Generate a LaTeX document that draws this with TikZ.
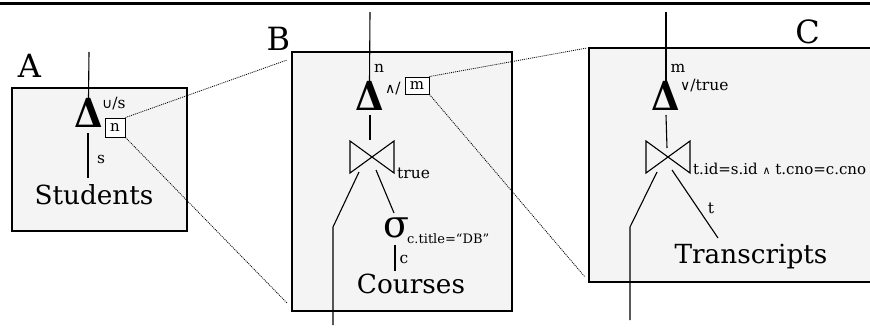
\documentclass[tikz,border=0pt]{standalone}
\usepackage{fontspec}
\setmainfont{DejaVu Serif}
\newfontfamily\symf{DejaVu Sans}
\definecolor{panelgray}{HTML}{F4F4F4}
\begin{document}
\begin{tikzpicture}[x=1pt,y=-1pt,
  panel/.style={draw=black,line width=1.2pt,fill=panelgray},
  conn/.style={line width=1.1pt},
  zoomline/.style={line width=0.8pt,dash pattern=on 1pt off 1pt},
  big/.style={font=\fontsize{26.3}{26}\selectfont,inner sep=0pt,anchor=base},
  letter/.style={font=\fontsize{32}{32}\selectfont,inner sep=0pt,anchor=base},
  lab/.style={font=\fontsize{15.5}{15}\selectfont,inner sep=0pt,anchor=base},
  labw/.style={font=\fontsize{15.5}{15}\selectfont,inner sep=0pt,anchor=base west},
  delta/.style={font=\fontsize{40}{40}\selectfont\bfseries,inner sep=0pt,anchor=base,text height=28pt,text depth=0pt},
  sigma/.style={font=\fontsize{38}{38}\selectfont,inner sep=0pt,anchor=base},
  refbox/.style={draw,line width=0.9pt,fill=white,inner sep=0pt,font=\fontsize{15}{15}\selectfont,align=center},
  bowtie/.pic={\draw[line width=1.1pt] (-21,-16) -- (-21,16) -- (23,-16) -- (23,16) -- cycle;}
]
\useasboundingbox (0,0) rectangle (870,327);
% top rule
\draw[line width=3pt] (0,3) -- (870,3);

% panels
\draw[panel] (12,88) rectangle (187,231);
\draw[panel] (292,52) rectangle (512,311);
\draw[panel] (589,48) rectangle (880,282);

% panel labels
\node[letter] (labA) at (29.5,77) {A};
\node[letter] (labB) at (278.5,50) {B};
\node[letter] (labC) at (807.5,43) {C};

%%%%% Panel A
\node[delta] (dA) at (88.5,127) {\scalebox{0.92}[1]{Δ}};
\node[labw] (opA) at (102,108) {{\symf\fontsize{14}{14}\selectfont ∪}/s};
\node[refbox,minimum width=20pt,minimum height=19pt] (boxN) at (115,127.5) {n};
\node[lab] (sA) at (101,163) {s};
\node[big] (stud) at (94,204) {Students};
\coordinate (aTop) at (89,52);
\coordinate (aBot1) at (88,133);
\coordinate (aBot2) at (88,178);
\draw[conn] (aTop) -- (dA.north);
\draw[conn] (aBot1) -- (aBot2);

%%%%% Panel B
\coordinate (bTop) at (370,12);
\node[lab] (nB) at (379,72) {n};
\node[delta] (dB) at (369.5,110) {\scalebox{0.92}[1]{Δ}};
\node[labw] (opB) at (385,93) {{\symf\fontsize{14}{14}\selectfont ∧}/};
\node[refbox,minimum width=24pt,minimum height=17pt] (boxM) at (417,85.5) {m};
\coordinate (jB) at (371,157);
\pic at (jB) {bowtie};
\node[labw] (trueB) at (397,178) {true};
\node[sigma] (sig) at (396,237) {σ};
\node[labw,font=\fontsize{13}{13}\selectfont] (condB) at (407,243) {c.title=“DB”};
\node[lab] (cB) at (404,263) {c};
\node[big] (courses) at (411,293) {Courses};
\coordinate (bMid1) at (370,115);
\coordinate (bMid2) at (370,140);
\coordinate (bL1) at (359,172);
\coordinate (bL2) at (333,227);
\coordinate (bL3) at (333,325);
\coordinate (bR1) at (376,170);
\coordinate (bR2) at (394,213);
\coordinate (bC1) at (395,245);
\coordinate (bC2) at (395,271);
\draw[conn] (bTop) -- (dB.north);
\draw[conn] (bMid1) -- (bMid2);
\draw[conn] (bL1) -- (bL2) -- (bL3);
\draw[conn] (bR1) -- (bR2);
\draw[conn] (bC1) -- (bC2);

%%%%% Panel C
\coordinate (cTop) at (666,12);
\node[lab] (mC) at (678,72) {m};
\node[delta] (dC) at (666,110) {\scalebox{0.92}[1]{Δ}};
\node[labw] (opC) at (680,90) {{\symf\fontsize{14}{14}\selectfont ∨}/true};
\coordinate (jC) at (667,157);
\pic at (jC) {bowtie};
\node[labw,font=\fontsize{15}{15}\selectfont] (condC) at (693,174) {t.id=s.id {\symf\fontsize{11}{11}\selectfont ∧} t.cno=c.cno};
\node[lab] (tC) at (711,213) {t};
\node[big] (trans) at (751,263) {Transcripts};
\coordinate (cMid1) at (666,115);
\coordinate (cMid2) at (667,148);
\coordinate (cL1) at (657,172);
\coordinate (cL2) at (630,227);
\coordinate (cL3) at (630,320);
\coordinate (cR1) at (672,170);
\coordinate (cR2) at (718,238);
\draw[conn] (cTop) -- (dC.north);
\draw[conn] (cMid1) -- (cMid2);
\draw[conn] (cL1) -- (cL2) -- (cL3);
\draw[conn] (cR1) -- (cR2);

%%%%% zoom lines
\coordinate (zb1) at (287,60);
\coordinate (zb2) at (287,303);
\coordinate (zc1) at (587,48);
\coordinate (zc2) at (585,277);
\draw[zoomline] (boxN.north east) -- (zb1);
\draw[zoomline] (boxN.south east) -- (zb2);
\draw[zoomline] (boxM.north east) -- (zc1);
\draw[zoomline] (boxM.south east) -- (zc2);
\end{tikzpicture}
\end{document}
